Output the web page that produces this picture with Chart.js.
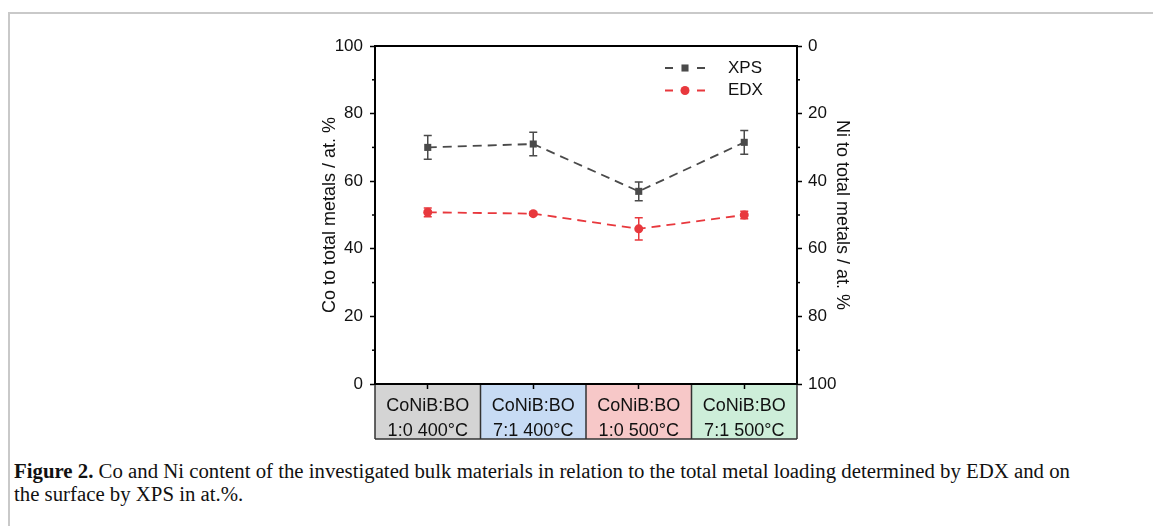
<!DOCTYPE html>
<html><head><meta charset="utf-8">
<script src="https://cdn.jsdelivr.net/npm/chart.js@4.4.0/dist/chart.umd.min.js"></script>
<style>
html,body{margin:0;padding:0;background:#fff;width:1153px;height:526px;overflow:hidden;}
#wrap{position:relative;width:1153px;height:526px;}
#frameTop{position:absolute;left:8px;top:12px;width:1145px;height:2px;background:#c9c9c9;}
#frameLeft{position:absolute;left:8px;top:12px;width:2px;height:514px;background:#c9c9c9;}
#c{position:absolute;left:0;top:0;width:1153px;height:450px;}
#cap{position:absolute;left:14px;top:459px;width:1070px;font-family:'Liberation Serif','Times New Roman',serif;font-size:20.8px;line-height:23px;color:#111;}
</style></head>
<body><div id="wrap"><div id="frameTop"></div><div id="frameLeft"></div>
<canvas id="c" width="1153" height="450"></canvas>
<div id="cap"><b>Figure 2.</b> Co and Ni content of the investigated bulk materials in relation to the total metal loading determined by EDX and on the surface by XPS in at.%.</div></div>
<script>
// ---- data ----
const categories = [["CoNiB:BO","1:0 400°C"],["CoNiB:BO","7:1 400°C"],["CoNiB:BO","1:0 500°C"],["CoNiB:BO","7:1 500°C"]];
const xpsValues = [70.0, 71.0, 57.0, 71.5];
const xpsErrors = [3.5, 3.5, 2.8, 3.5];
const edxValues = [50.8, 50.4, 45.9, 50.0];
const edxErrors = [1.3, 0.5, 3.3, 1.1];
const leftTitle = "Co to total metals / at. %";
const rightTitle = "Ni to total metals / at. %";
const boxColors = ["#d4d4d4","#c7dbf4","#f7c8c8","#cdeed9"];

const TEXT = '#111';
const FONT = "'Liberation Sans', Arial, sans-serif";

const errorBars = {
  id:'errorBars',
  afterDatasetsDraw(chart){
    const ctx = chart.ctx, y = chart.scales.y;
    chart.data.datasets.forEach((ds, di) => {
      const meta = chart.getDatasetMeta(di);
      ctx.save();
      ctx.strokeStyle = ds.borderColor; ctx.lineWidth = 1.5; ctx.setLineDash([]);
      meta.data.forEach((pt, i) => {
        const e = ds.errors[i], v = ds.data[i];
        const yt = y.getPixelForValue(v + e), yb = y.getPixelForValue(v - e);
        ctx.beginPath();
        ctx.moveTo(pt.x, yt); ctx.lineTo(pt.x, yb);
        ctx.moveTo(pt.x-4, yt); ctx.lineTo(pt.x+4, yt);
        ctx.moveTo(pt.x-4, yb); ctx.lineTo(pt.x+4, yb);
        ctx.stroke();
      });
      ctx.restore();
    });
  }
};

const boxes = {
  id:'boxes',
  beforeDraw(chart){
    const ctx = chart.ctx, x = chart.scales.x, a = chart.chartArea;
    const w = x.getPixelForValue(1) - x.getPixelForValue(0);
    const bottom = 439;
    ctx.save();
    categories.forEach((c, i) => {
      const cx = x.getPixelForValue(i);
      ctx.fillStyle = boxColors[i];
      ctx.fillRect(cx - w/2, a.bottom, w, bottom - a.bottom);
    });
    ctx.strokeStyle = '#333'; ctx.lineWidth = 1.5;
    ctx.beginPath();
    for (let i = 0; i <= categories.length; i++) {
      const bx = x.getPixelForValue(0) - w/2 + i*w;
      ctx.moveTo(bx, a.bottom); ctx.lineTo(bx, bottom);
    }
    ctx.moveTo(a.left, bottom); ctx.lineTo(a.right, bottom);
    ctx.stroke();
    ctx.restore();
  }
};

const frame = {
  id:'frame',
  afterDraw(chart){
    const ctx = chart.ctx, a = chart.chartArea;
    ctx.save();
    ctx.strokeStyle = '#000'; ctx.lineWidth = 2;
    ctx.beginPath(); ctx.moveTo(a.left-1, a.top); ctx.lineTo(a.right+1, a.top); ctx.stroke();
    // minor ticks
    ctx.lineWidth = 1.5;
    ['y','y2'].forEach(id => {
      const s = chart.scales[id];
      for (let v = 10; v < 100; v += 20) {
        const py = s.getPixelForValue(v);
        ctx.beginPath();
        if (id === 'y') { ctx.moveTo(a.left - 3, py); ctx.lineTo(a.left, py); }
        else { ctx.moveTo(a.right, py); ctx.lineTo(a.right + 3, py); }
        ctx.stroke();
      }
    });
    // legend
    chart.data.datasets.forEach((ds, i) => {
      const ly = 68 + i*22.5;
      ctx.strokeStyle = ds.borderColor; ctx.lineWidth = ds.borderWidth;
      ctx.setLineDash([]);
      ctx.beginPath();
      ctx.moveTo(665, ly); ctx.lineTo(673, ly);
      ctx.moveTo(697, ly); ctx.lineTo(705, ly);
      ctx.stroke();
      ctx.fillStyle = ds.pointBackgroundColor;
      Chart.helpers.drawPoint(ctx, {pointStyle: ds.pointStyle, radius: ds.pointRadius, rotation: 0, borderWidth: 0}, 685, ly);
      ctx.fillStyle = TEXT; ctx.font = "17px " + FONT; ctx.textBaseline = 'middle'; ctx.textAlign = 'left';
      ctx.fillText(ds.label, 728, ly);
    });
    ctx.restore();
  }
};

new Chart(document.getElementById('c'), {
  type:'line',
  data:{
    labels: categories,
    datasets:[
      {label:'XPS', data:xpsValues, errors:xpsErrors, borderColor:'#4a4a4a', backgroundColor:'#4a4a4a',
       pointBackgroundColor:'#4a4a4a', pointBorderColor:'#4a4a4a', borderWidth:1.8, borderDash:[9,6],
       pointStyle:'rect', pointRadius:5, pointBorderWidth:0, yAxisID:'y'},
      {label:'EDX', data:edxValues, errors:edxErrors, borderColor:'#e8383d', backgroundColor:'#e8383d',
       pointBackgroundColor:'#e8383d', pointBorderColor:'#e8383d', borderWidth:1.8, borderDash:[9,6],
       pointStyle:'circle', pointRadius:4.5, pointBorderWidth:0, yAxisID:'y'}
    ]
  },
  options:{
    responsive:false, animation:false, devicePixelRatio:1,
    layout:{padding:{left:319, right:300, top:46, bottom:0}},
    plugins:{legend:{display:false}, tooltip:{enabled:false}},
    scales:{
      x:{type:'category', offset:true,
         grid:{drawOnChartArea:false, offset:false, tickLength:5, tickColor:'#000', tickWidth:1.5},
         border:{color:'#000', width:2},
         ticks:{color:TEXT, font:{family:FONT, size:18, lineHeight:1.38}, padding:5, maxRotation:0, autoSkip:false},
         afterFit(s){ s.height = 66; }},
      y:{position:'left', min:0, max:100,
         grid:{drawOnChartArea:false, tickLength:5, tickColor:'#000', tickWidth:1.5},
         border:{color:'#000', width:2},
         ticks:{stepSize:20, color:TEXT, font:{family:FONT, size:17}, padding:7},
         title:{display:true, text:leftTitle, color:TEXT, font:{family:FONT, size:18}, padding:0},
         afterFit(s){ s.width = 56; }},
      y2:{position:'right', min:0, max:100, reverse:true,
         grid:{drawOnChartArea:false, tickLength:5, tickColor:'#000', tickWidth:1.5},
         border:{color:'#000', width:2},
         ticks:{stepSize:20, color:TEXT, font:{family:FONT, size:17}, padding:6},
         title:{display:true, text:rightTitle, color:TEXT, font:{family:FONT, size:18}, padding:0},
         afterFit(s){ s.width = 56; }}
    }
  },
  plugins:[boxes, errorBars, frame]
});
</script>
</body></html>
